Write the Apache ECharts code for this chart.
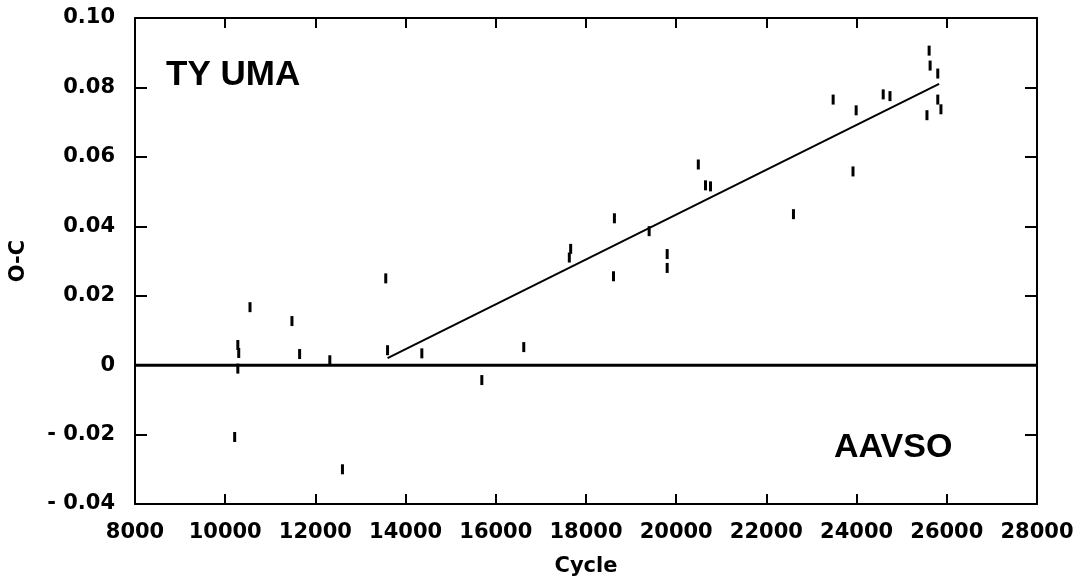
<!DOCTYPE html>
<html>
<head>
<meta charset="utf-8">
<title>TY UMA O-C</title>
<script src="https://cdn.jsdelivr.net/npm/echarts@6/dist/echarts.min.js"></script>
<style>
  html, body { margin: 0; padding: 0; background: #fff; }
  #chart { width: 1081px; height: 587px; }
</style>
</head>
<body>
<div id="chart"></div>
<script>
// Observed timings: cycle number and O-C (days)
const cycles = [
  10210, 10280, 10280, 10300, 10550, 11480, 11650, 12320, 12600, 13560,
  13600, 14360, 15690, 16620, 17630, 17660, 18610, 18630, 19400, 19800,
  19800, 20490, 20650, 20760, 22600, 23480, 23920, 23990, 24590, 24740,
  25560, 25608, 25630, 25800, 25800, 25870
];
const ocValues = [
  -0.0207, 0.0058, -0.001, 0.0035, 0.0167, 0.0127, 0.0032, 0.0014, -0.030, 0.025,
  0.0043, 0.0034, -0.0043, 0.0052, 0.031, 0.0335, 0.0256, 0.0423, 0.0386, 0.028,
  0.032, 0.0578, 0.0518, 0.0515, 0.0435, 0.0765, 0.0558, 0.0734, 0.078, 0.0775,
  0.072, 0.0906, 0.0863, 0.084, 0.0765, 0.0737
];

// Linear fit drawn through the later data
const fitCycles = [13600, 25830];
const fitValues = [0.002, 0.081];

// Zero reference line
const zeroCycles = [8000, 28000];
const zeroValues = [0, 0];

const xTicks = { min: 8000, max: 28000, interval: 2000 };
const yTicks = { min: -0.04, max: 0.10, interval: 0.02 };

const chart = echarts.init(document.getElementById('chart'));

const tickFont = '"DejaVu Sans", sans-serif';
const textFont = '"Liberation Sans", Arial, sans-serif';

function yLabel(v) {
  const r = Math.round(v * 100) / 100;
  if (r === 0) return '0';
  if (r < 0) return '- ' + Math.abs(r).toFixed(2);
  return r.toFixed(2);
}

const axisLine = { show: true, onZero: false, lineStyle: { color: '#000', width: 2 } };
const tickStyle = { color: '#000', width: 2 };

chart.setOption({
  backgroundColor: '#fff',
  animation: false,
  grid: { left: 134, right: 44, top: 18, bottom: 83 },
  xAxis: [
    {
      type: 'value',
      min: xTicks.min, max: xTicks.max, interval: xTicks.interval,
      name: 'Cycle',
      nameLocation: 'middle',
      nameGap: 52,
      nameTextStyle: { color: '#000', fontSize: 21, fontWeight: 'bold', fontFamily: tickFont },
      axisLine,
      axisTick: { inside: true, length: 10, lineStyle: tickStyle },
      axisLabel: {
        color: '#000', fontSize: 21, fontWeight: 'bold', fontFamily: tickFont, margin: 18,
        formatter: v => String(v)
      },
      splitLine: { show: false }
    },
    {
      type: 'value', position: 'top',
      min: xTicks.min, max: xTicks.max, interval: xTicks.interval,
      axisLine,
      axisTick: { inside: true, length: 10, lineStyle: tickStyle },
      axisLabel: { show: false },
      splitLine: { show: false }
    }
  ],
  yAxis: [
    {
      type: 'value',
      min: yTicks.min, max: yTicks.max, interval: yTicks.interval,
      name: 'O-C',
      nameLocation: 'middle',
      nameGap: 106,
      nameRotate: 90,
      nameTextStyle: { color: '#000', fontSize: 21, fontWeight: 'bold', fontFamily: tickFont },
      axisLine,
      axisTick: { inside: true, length: 12, lineStyle: tickStyle },
      axisLabel: { color: '#000', fontSize: 21, fontWeight: 'bold', fontFamily: tickFont, margin: 20, formatter: yLabel },
      splitLine: { show: false }
    },
    {
      type: 'value', position: 'right',
      min: yTicks.min, max: yTicks.max, interval: yTicks.interval,
      axisLine,
      axisTick: { inside: true, length: 12, lineStyle: tickStyle },
      axisLabel: { show: false },
      splitLine: { show: false }
    }
  ],
  graphic: [
    { type: 'text', left: 166, top: 58, style: { text: 'TY UMA', fill: '#000', font: 'bold 35px ' + textFont } },
    { type: 'text', left: 834, top: 431, style: { text: 'AAVSO', fill: '#000', font: 'bold 34px ' + textFont } }
  ],
  series: [
    {
      type: 'line',
      data: zeroCycles.map((c, i) => [c, zeroValues[i]]),
      symbol: 'none',
      lineStyle: { color: '#000', width: 3 },
      z: 2
    },
    {
      type: 'line',
      data: fitCycles.map((c, i) => [c, fitValues[i]]),
      symbol: 'none',
      lineStyle: { color: '#000', width: 2 },
      z: 2
    },
    {
      type: 'scatter',
      data: cycles.map((c, i) => [c, ocValues[i]]),
      symbol: 'rect',
      symbolSize: [3, 10],
      itemStyle: { color: '#000', opacity: 1 },
      z: 3
    }
  ]
});
</script>
</body>
</html>
